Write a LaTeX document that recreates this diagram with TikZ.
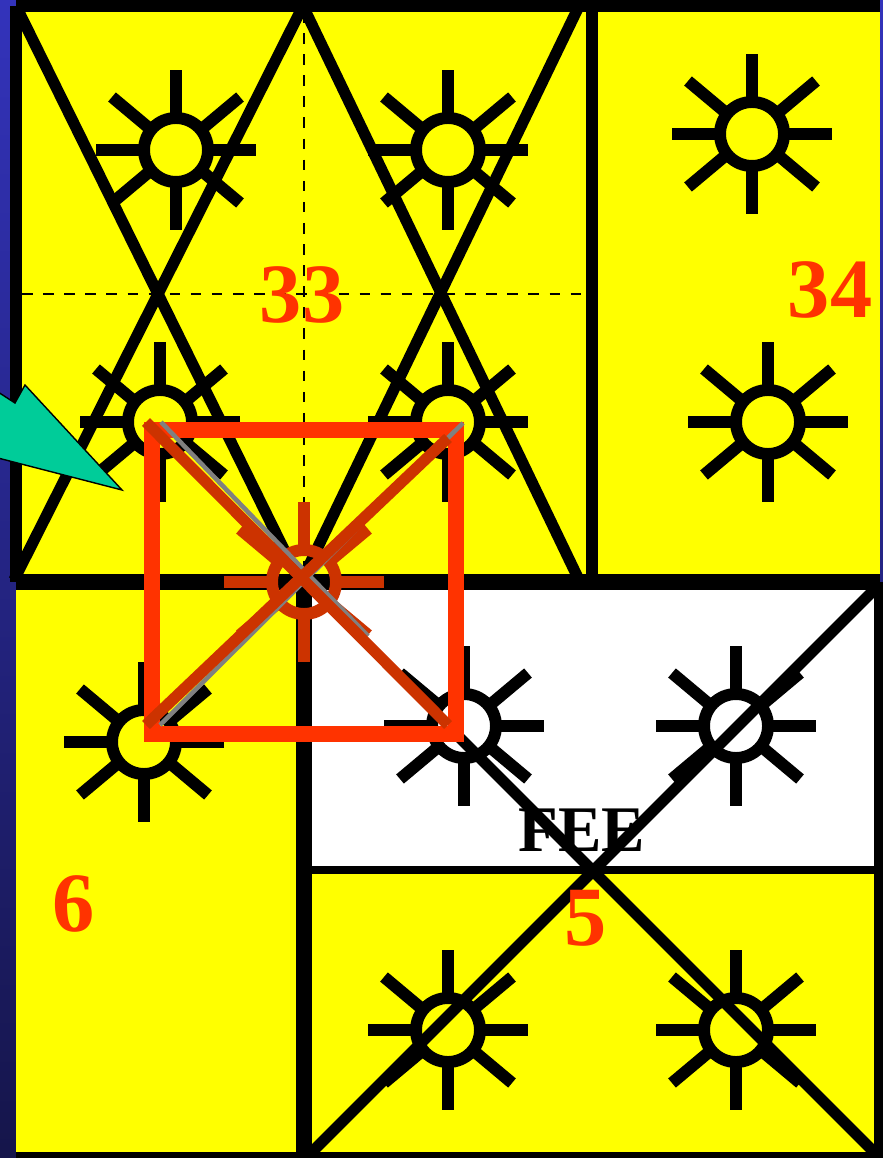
\documentclass[tikz,border=0pt]{standalone}
\usepackage{fontspec}
\setmainfont{Liberation Serif}
\usepackage{xcolor}
\definecolor{lampyellow}{HTML}{FFFF00}
\definecolor{labelred}{HTML}{FF3300}
\definecolor{crossred}{HTML}{CC3300}
\definecolor{pointer}{HTML}{00CC99}
\definecolor{edgetop}{HTML}{3333BB}
\definecolor{edgebot}{HTML}{15154A}

\tikzset{
    wall/.style={fill=black, draw=none},
    cross/.style={draw=black, line width=3.2pt},
    roomlabel/.style={font=\bfseries\fontsize{24}{24}\selectfont, text=labelred, inner sep=0pt},
}

% one lamp: centre, colour
\newcommand{\lamp}[3]{
    \begin{scope}[shift={(#1,#2)}, draw=#3, line width=3.4pt]
        \draw (0,0) circle (32);
        \foreach \ex/\ey in {32/0,-32/0,0/32,0/-32}
            \draw (\ex,\ey) -- ({2.5*\ex},{2.5*\ey});
        \foreach \ex/\ey in {1/1,-1/1,1/-1,-1/-1}
            \draw ({\ex*27},{\ey*22}) -- ({\ex*64},{\ey*53});
    \end{scope}
}

\begin{document}
\begin{tikzpicture}[x=0.01cm, y=-0.01cm]
    \useasboundingbox (0,0) rectangle (883,1158);
    % backdrop
    \shade[top color=edgetop, bottom color=edgebot] (0,0) rectangle (883,1158);
    \fill[lampyellow] (16,6) rectangle (880,582);
    \fill[lampyellow] (16,582) rectangle (874,1158);
    \fill[white] (304,582) rectangle (874,870);

    % centre lines of room 33
    \draw[line width=0.5pt, dashed] (22,294) -- (582,294);
    \draw[line width=0.5pt, dashed] (304,12) -- (304,574);

    % crossing lines
    \draw[cross] (18,10) -- (299,580);
    \draw[cross] (304,4) -- (14,580);
    \draw[cross] (302,4) -- (579,580);
    \draw[cross] (580,4) -- (302,580);
    \draw[cross] (448,726) -- (874,1152);
    \draw[cross] (878,586) -- (312,1152);

    % walls
    \fill[wall] (16,0) rectangle (880,12);
    \fill[wall] (10,6) rectangle (22,582);
    \fill[wall] (586,0) rectangle (598,582);
    \fill[wall] (16,574) rectangle (880,582);
    \fill[wall] (16,582) rectangle (883,590);
    \fill[wall] (296,582) rectangle (312,1158);
    \fill[wall] (312,866) rectangle (883,874);
    \fill[wall] (874,582) rectangle (883,1158);
    \fill[wall] (16,1152) rectangle (883,1158);

    \foreach \px/\py in {176/150,448/150,752/134,160/422,448/422,768/422,144/742,464/726,736/726,448/1030,736/1030}
        \lamp{\px}{\py}{black};

    % labels
    \node[roomlabel] (room33) at (302,295) {33};
    \node[roomlabel] (room34) at (830,290) {34};
    \node[roomlabel] (room6) at (74,904) {6};
    \node[roomlabel] (room5) at (586,918) {5};
    \node[font=\bfseries\fontsize{18.5}{18.5}\selectfont, inner sep=0pt] (fee) at (582,830) {FEE};

    % pointer
    \draw[fill=pointer, line width=0.4pt] (-2,392) -- (15,403) -- (25,385) -- (122,490) -- (-2,458);

    % marked square
    \lamp{304}{582}{crossred}
    \draw[labelred, line width=4.55pt] (152,430) rectangle (456,734);
    \draw[gray, line width=1.3pt] (161,422) -- (304,570) -- (368,636);
    \draw[gray, line width=1.3pt] (463,423) -- (160,725);
    \draw[crossred, line width=3.2pt] (146,422) -- (448,725);
    \draw[crossred, line width=3.2pt] (448,438) -- (146,725);
\end{tikzpicture}
\end{document}
